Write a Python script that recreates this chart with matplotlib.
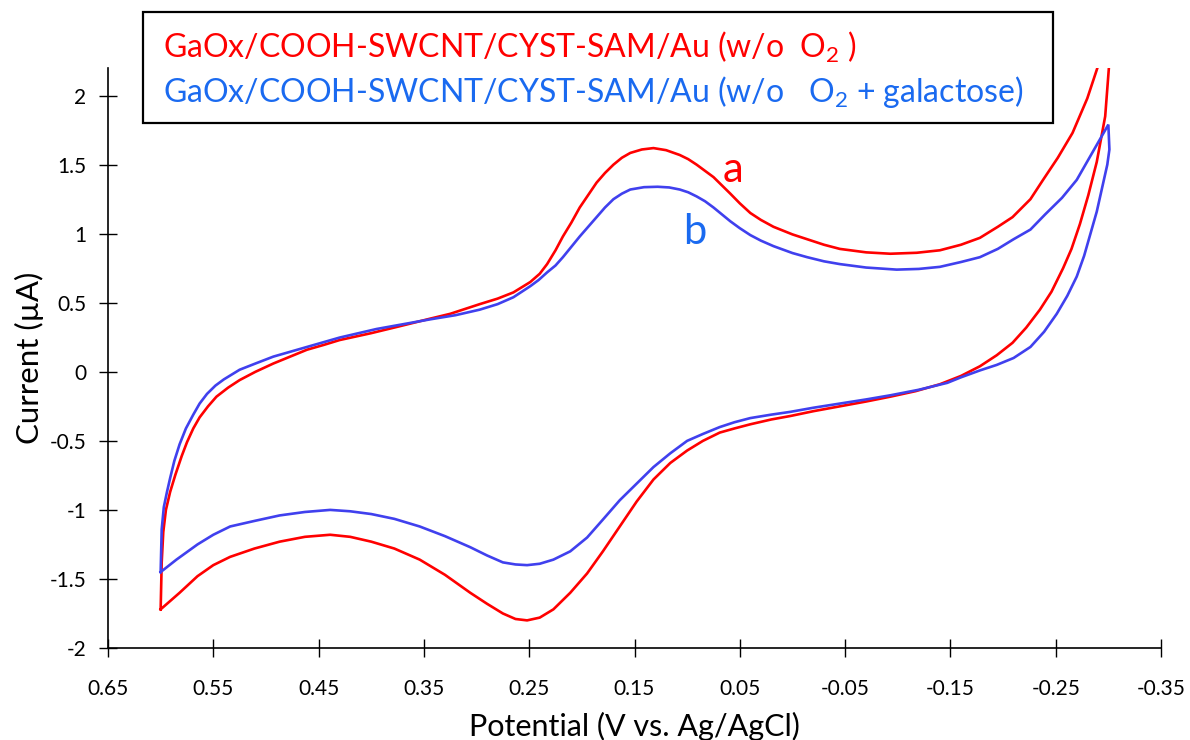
import matplotlib
matplotlib.use('Agg')
import matplotlib.pyplot as plt

# cyclic voltammograms: forward sweep to -0.30 V, then return sweep
red_x = [0.600, 0.5995, 0.599, 0.5975, 0.595, 0.591, 0.586, 0.580, 0.575, 0.569, 0.563, 0.555,
         0.547, 0.536, 0.525, 0.510, 0.493, 0.477, 0.461, 0.445, 0.430, 0.400, 0.373, 0.344,
         0.325, 0.297, 0.280, 0.265, 0.249,
         0.240, 0.233, 0.225, 0.218, 0.210, 0.202, 0.194, 0.186, 0.178, 0.170, 0.162, 0.154,
         0.143, 0.132, 0.120, 0.107, 0.099, 0.091, 0.083, 0.075, 0.067, 0.059, 0.050, 0.040,
         0.030, 0.018, 0.000, -0.014, -0.030, -0.045, -0.070, -0.093, -0.118, -0.140, -0.160,
         -0.178, -0.195, -0.209, -0.226, -0.238, -0.252, -0.266, -0.280, -0.290, -0.302,
         -0.3006, -0.297, -0.289, -0.281, -0.273, -0.265, -0.257, -0.246, -0.235, -0.222,
         -0.209, -0.194, -0.178, -0.160, -0.140, -0.117, -0.093, -0.070, -0.045, -0.020, 0.002,
         0.020, 0.040, 0.055, 0.069, 0.085, 0.100, 0.116, 0.132, 0.148, 0.164, 0.180, 0.195,
         0.211, 0.227, 0.240, 0.252, 0.263, 0.275, 0.290, 0.306, 0.330, 0.354, 0.378, 0.400,
         0.420, 0.439, 0.463, 0.487, 0.511, 0.534, 0.550, 0.565, 0.582, 0.600]
red_y = [-1.72, -1.55, -1.38, -1.16, -1.00, -0.87, -0.745, -0.61, -0.51, -0.41, -0.33, -0.25,
         -0.18, -0.115, -0.06, 0.00, 0.06, 0.11, 0.16, 0.195, 0.23, 0.28, 0.33, 0.385,
         0.42, 0.49, 0.53, 0.575, 0.65,
         0.71, 0.78, 0.88, 0.98, 1.08, 1.19, 1.28, 1.37, 1.44, 1.50, 1.55, 1.585,
         1.61, 1.62, 1.605, 1.57, 1.54, 1.50, 1.455, 1.41, 1.35, 1.29, 1.22, 1.15,
         1.10, 1.05, 0.995, 0.96, 0.92, 0.89, 0.865, 0.855, 0.862, 0.88, 0.92,
         0.97, 1.05, 1.12, 1.25, 1.39, 1.55, 1.73, 1.98, 2.21, 2.42,
         2.21, 1.85, 1.52, 1.28, 1.07, 0.89, 0.75, 0.58, 0.45, 0.32,
         0.21, 0.12, 0.04, -0.03, -0.09, -0.14, -0.18, -0.215, -0.25, -0.285, -0.32,
         -0.345, -0.38, -0.41, -0.44, -0.50, -0.57, -0.66, -0.78, -0.94, -1.12, -1.30, -1.46,
         -1.60, -1.72, -1.78, -1.80, -1.79, -1.75, -1.68, -1.60, -1.47, -1.36, -1.28, -1.23,
         -1.195, -1.18, -1.195, -1.23, -1.28, -1.34, -1.40, -1.48, -1.60, -1.72]

blue_x = [0.600, 0.5995, 0.599, 0.597, 0.594, 0.591, 0.587, 0.582, 0.576, 0.569, 0.563, 0.556,
          0.548, 0.540, 0.525, 0.510, 0.493, 0.477, 0.461, 0.445, 0.430, 0.395, 0.373, 0.344,
          0.320, 0.297, 0.280, 0.265, 0.249, 0.241,
          0.233, 0.225, 0.218, 0.210, 0.202, 0.194, 0.186, 0.178, 0.170, 0.162, 0.154, 0.141,
          0.128, 0.117, 0.107, 0.099, 0.091, 0.083, 0.075, 0.067, 0.059, 0.050, 0.040, 0.030,
          0.018, 0.000, -0.014, -0.030, -0.045, -0.070, -0.099, -0.120, -0.140, -0.160, -0.178,
          -0.195, -0.210, -0.226, -0.240, -0.256, -0.270, -0.285, -0.300,
          -0.301, -0.299, -0.294, -0.289, -0.283, -0.277, -0.270, -0.261, -0.251, -0.239,
          -0.226, -0.210, -0.194, -0.178, -0.160, -0.147, -0.120, -0.093, -0.070, -0.045,
          -0.020, 0.002, 0.020, 0.040, 0.055, 0.069, 0.085, 0.100, 0.116, 0.132, 0.148, 0.164,
          0.180, 0.195, 0.211, 0.227, 0.240, 0.252, 0.263, 0.275, 0.290, 0.306, 0.330, 0.354,
          0.378, 0.400, 0.420, 0.439, 0.463, 0.487, 0.511, 0.534, 0.550, 0.565, 0.585, 0.600]
blue_y = [-1.45, -1.30, -1.14, -0.98, -0.87, -0.77, -0.645, -0.525, -0.41, -0.31, -0.23, -0.16,
          -0.10, -0.055, 0.015, 0.06, 0.11, 0.145, 0.18, 0.215, 0.248, 0.31, 0.34, 0.38,
          0.41, 0.45, 0.49, 0.54, 0.62, 0.665,
          0.72, 0.77, 0.83, 0.905, 0.98, 1.05, 1.12, 1.19, 1.25, 1.29, 1.32, 1.337,
          1.34, 1.335, 1.32, 1.30, 1.27, 1.235, 1.19, 1.14, 1.09, 1.04, 0.99, 0.95,
          0.91, 0.86, 0.83, 0.80, 0.78, 0.755, 0.74, 0.745, 0.76, 0.795, 0.83,
          0.89, 0.96, 1.03, 1.14, 1.26, 1.39, 1.59, 1.79,
          1.61, 1.50, 1.33, 1.16, 1.00, 0.84, 0.69, 0.55, 0.42, 0.29,
          0.18, 0.10, 0.05, 0.01, -0.04, -0.08, -0.13, -0.17, -0.20, -0.23,
          -0.26, -0.29, -0.31, -0.335, -0.365, -0.40, -0.45, -0.50, -0.59, -0.69, -0.81, -0.93,
          -1.07, -1.20, -1.30, -1.36, -1.39, -1.40, -1.395, -1.38, -1.33, -1.27, -1.19, -1.12,
          -1.065, -1.03, -1.01, -1.00, -1.015, -1.04, -1.08, -1.12, -1.18, -1.25, -1.36, -1.45]

x_ticks = [0.65, 0.55, 0.45, 0.35, 0.25, 0.15, 0.05, -0.05, -0.15, -0.25, -0.35]
y_ticks = [-2, -1.5, -1, -0.5, 0, 0.5, 1, 1.5, 2]

plt.rcParams['font.family'] = ['Lato', 'DejaVu Sans']
plt.rcParams['mathtext.fontset'] = 'custom'
plt.rcParams['mathtext.rm'] = 'Lato'

fig = plt.figure(figsize=(11.9, 7.4), dpi=100)
ax = fig.add_axes([108 / 1190, 92 / 740, (1161 - 108) / 1190, (648 - 68) / 740])

ax.plot(red_x, red_y, color='#ff0000', lw=1.9, solid_joinstyle='round')
ax.plot(blue_x, blue_y, color='#4040ee', lw=1.9, solid_joinstyle='miter')

ax.set_xlim(0.65, -0.35)
ax.set_ylim(-2, 2.2)
ax.set_xticks(x_ticks)
ax.set_xticklabels([f'{t:g}' for t in x_ticks])
ax.set_yticks(y_ticks)
ax.set_yticklabels([f'{t:g}' for t in y_ticks])
for s in ['top', 'right']:
    ax.spines[s].set_visible(False)
for s in ['left', 'bottom']:
    ax.spines[s].set_linewidth(1.2)
ax.tick_params(direction='inout', length=13, width=1.0, labelsize=15)
ax.tick_params(axis='x', pad=16)
ax.tick_params(axis='y', pad=9)

ax.set_xlabel('Potential (V vs. Ag/AgCl)', fontsize=22, labelpad=9)
ax.set_ylabel('Current (µA)', fontsize=22.5, labelpad=4)

ax.text(0.0565, 1.464, 'a', color='#ff0000', fontsize=30, ha='center', va='center')
ax.text(0.0926, 1.014, 'b', color='#1a6af0', fontsize=30, ha='center', va='center')

# legend-like box with the two series names
box = plt.Rectangle((143 / 1190, 1 - 123 / 740), (1053 - 143) / 1190, (123 - 12) / 740,
                    transform=fig.transFigure, fill=False, ec='black', lw=1.6)
fig.patches.append(box)
fig.text(163 / 1190, 1 - 47 / 740, r'GaOx/COOH-SWCNT/CYST-SAM/Au (w/o  O$_2$ )',
         color='#ff0000', fontsize=23, va='center', ha='left')
fig.text(163 / 1190, 1 - 92 / 740, r'GaOx/COOH-SWCNT/CYST-SAM/Au (w/o   O$_2$ + galactose)',
         color='#1a6af0', fontsize=23, va='center', ha='left')

fig.savefig('out.png', dpi=100)
